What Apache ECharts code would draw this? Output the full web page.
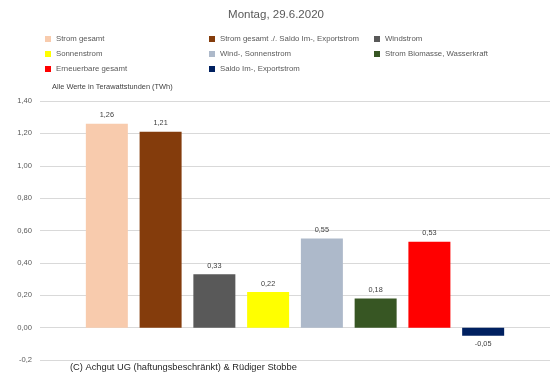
<!DOCTYPE html>
<html>
<head>
<meta charset="utf-8">
<script src="https://cdn.jsdelivr.net/npm/echarts@6/dist/echarts.min.js"></script>
<style>html,body{margin:0;padding:0;background:#fff}#c{width:552px;height:382px}</style>
</head>
<body>
<div id="c"></div>
<script>
const seriesNames = ['Strom gesamt','Strom gesamt ./. Saldo Im-, Exportstrom','Windstrom','Sonnenstrom','Wind-, Sonnenstrom','Strom Biomasse, Wasserkraft','Erneuerbare gesamt','Saldo Im-, Exportstrom'];
const seriesValues = [1.26, 1.21, 0.33, 0.22, 0.55, 0.18, 0.53, -0.05];
const seriesColors = ['#F8CBAD','#843C0C','#595959','#FFFF00','#ADB9CA','#375623','#FF0000','#002060'];
const yTicks = [-0.2, 0, 0.2, 0.4, 0.6, 0.8, 1.0, 1.2, 1.4];
const yTickLabels = ['-0,2','0,00','0,20','0,40','0,60','0,80','1,00','1,20','1,40'];
const categories = [''];

const font = 'Liberation Sans';
const legendCols = [[0,3,6],[1,4,7],[2,5]];
const legendLefts = [45, 209, 374];

const chart = echarts.init(document.getElementById('c'));
chart.setOption({
  animation: false,
  textStyle: {fontFamily: font},
  title: [
    {text: 'Montag, 29.6.2020', left: 'center', top: 4, textStyle: {fontSize: 11.5, fontWeight: 'normal', color: '#595959', fontFamily: font}},
    {text: '(C) Achgut UG (haftungsbeschränkt) & Rüdiger Stobbe', left: 40, top: 362, padding: [1, 24, 1, 30], backgroundColor: '#fff', textStyle: {fontSize: 9.3, fontWeight: 'normal', color: '#262626', fontFamily: font}}
  ],
  legend: legendCols.map((col, i) => ({
    orient: 'vertical', left: legendLefts[i], top: 35, padding: 0,
    data: col.map(k => seriesNames[k]),
    icon: 'rect', itemWidth: 6, itemHeight: 6, itemGap: 7,
    selectedMode: false,
    textStyle: {fontSize: 7.8, color: '#595959', fontFamily: font, lineHeight: 8}
  })),
  graphic: [{type: 'text', left: 52, top: 83, style: {text: 'Alle Werte in Terawattstunden (TWh)', fill: '#404040', font: '7.4px "Liberation Sans"'}}],
  grid: {left: 40, right: 2, top: 101, bottom: 22, containLabel: false},
  xAxis: {type: 'category', data: categories, axisLine: {show: false}, axisTick: {show: false}, axisLabel: {show: false}},
  yAxis: {
    type: 'value', min: -0.2, max: 1.4, interval: 0.2,
    axisLine: {show: false}, axisTick: {show: false},
    splitLine: {lineStyle: {color: '#D9D9D9', width: 1}},
    axisLabel: {fontSize: 7.6, color: '#595959', margin: 8, fontFamily: font,
      formatter: v => { const i = yTicks.findIndex(t => Math.abs(t - v) < 1e-6); return i >= 0 ? yTickLabels[i] : ''; }}
  },
  series: seriesNames.map((name, i) => ({
    name, type: 'bar', data: [seriesValues[i]], barWidth: 42, barGap: '28%',
    itemStyle: {color: seriesColors[i]},
    label: {show: true, position: seriesValues[i] < 0 ? 'bottom' : 'top', distance: 5, fontSize: 7.3, color: '#404040', fontFamily: font,
      formatter: p => p.value.toFixed(2).replace('.', ',')}
  }))
});
</script>
</body>
</html>
